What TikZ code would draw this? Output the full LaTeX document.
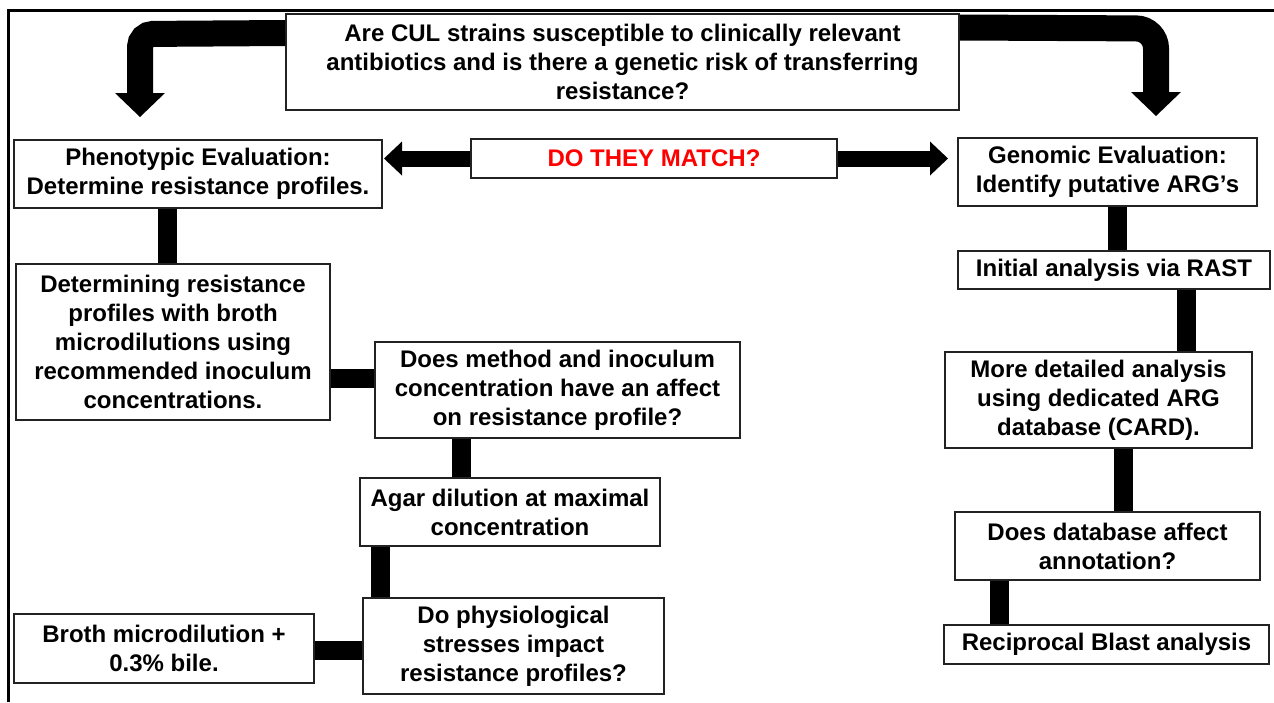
\documentclass[tikz,border=0pt]{standalone}
\usepackage{fontspec}
\setmainfont{Liberation Sans}
\usetikzlibrary{arrows.meta}
\definecolor{boxline}{HTML}{222222}
\definecolor{alertred}{HTML}{FF0000}
\tikzset{
  box/.style={draw=boxline, line width=2pt, fill=white, align=center, inner sep=0pt,
              font=\fontsize{24}{29}\selectfont\bfseries},
  link/.style={line width=19pt, draw=black},
  sidearrow/.style={line width=16pt, draw=black,
              -{Triangle[length=18pt,width=34pt,line width=0pt]}},
  bigarrow/.style={line width=26pt, draw=black,
              -{Triangle[length=24pt,width=50pt,line width=0pt]}},
  frame/.style={line width=2.5pt, draw=black}
}
\begin{document}
\begin{tikzpicture}[x=1pt, y=-1pt]
\useasboundingbox (0,0) rectangle (1274,702);

% outer frame (top and left edges)
\draw[frame] (8.5,702) -- (8.5,10.5) -- (1274,10.5);

% question box
\node[box, minimum width=673pt, minimum height=96pt] (q) at (622.5,62)
  {Are CUL strains susceptible to clinically relevant\\antibiotics and is there a genetic risk of transferring\\resistance?};

% phenotypic branch
\node[box, minimum width=368pt, minimum height=68pt] (phen) at (198,174)
  {Phenotypic Evaluation:\\Determine resistance profiles.};
\node[box, minimum width=314pt, minimum height=156pt] (det) at (173,342)
  {Determining resistance\\profiles with broth\\microdilutions using\\recommended inoculum\\concentrations.};
\node[box, minimum width=365pt, minimum height=96pt] (meth) at (557.5,390)
  {Does method and inoculum\\concentration have an affect\\on resistance profile?};
\node[box, minimum width=300pt, minimum height=68pt] (agar) at (510,512)
  {Agar dilution at maximal\\concentration};
\node[box, minimum width=301pt, minimum height=96pt] (phys) at (513.5,646)
  {Do physiological\\stresses impact\\resistance profiles?};
\node[box, minimum width=300pt, minimum height=69pt] (broth) at (164,648.5)
  {Broth microdilution +\\0.3\% bile.};

% comparison box
\node[box, minimum width=366pt, minimum height=39pt, text=alertred] (match) at (654,158.5)
  {DO THEY MATCH?};

% genomic branch
\node[box, minimum width=299pt, minimum height=68pt] (gen) at (1107.5,172)
  {Genomic Evaluation:\\Identify putative ARG’s};
\node[box, minimum width=312pt, minimum height=38pt] (rast) at (1114,270)
  {Initial analysis via RAST};
\node[box, minimum width=307pt, minimum height=96pt] (card) at (1098.5,400)
  {More detailed analysis\\using dedicated ARG\\database (CARD).};
\node[box, minimum width=305pt, minimum height=68pt] (db) at (1107.5,546)
  {Does database affect\\annotation?};
\node[box, minimum width=325pt, minimum height=39pt] (blast) at (1106.5,644.5)
  {Reciprocal Blast analysis};

% bent arrows from the question
\draw[bigarrow, rounded corners=13pt] ([yshift=-20pt]q.north west) -- (140,34) -- (140,117);
\draw[bigarrow, rounded corners=20pt] ([yshift=-14.5pt]q.north east) -- (1156,28.5) -- (1156,116);

% double arrow between evaluations
\draw[sidearrow] (match.west) -- (384,158.5);
\draw[sidearrow] (match.east) -- (948,158.5);

% phenotypic links
\draw[link] (167,0 |- phen.south) -- (167,0 |- det.north);
\draw[link] (0,378 -| det.east) -- (0,378 -| meth.west);
\draw[link] (461,0 |- meth.south) -- (461,0 |- agar.north);
\draw[link] (380,0 |- agar.south) -- (380,0 |- phys.north);
\draw[link] (0,650 -| broth.east) -- (0,650 -| phys.west);

% genomic links
\draw[link] (1117,0 |- gen.south) -- (1117,0 |- rast.north);
\draw[link] (1186,0 |- rast.south) -- (1186,0 |- card.north);
\draw[link] (1123,0 |- card.south) -- (1123,0 |- db.north);
\draw[link] (999,0 |- db.south) -- (999,0 |- blast.north);
\end{tikzpicture}
\end{document}
